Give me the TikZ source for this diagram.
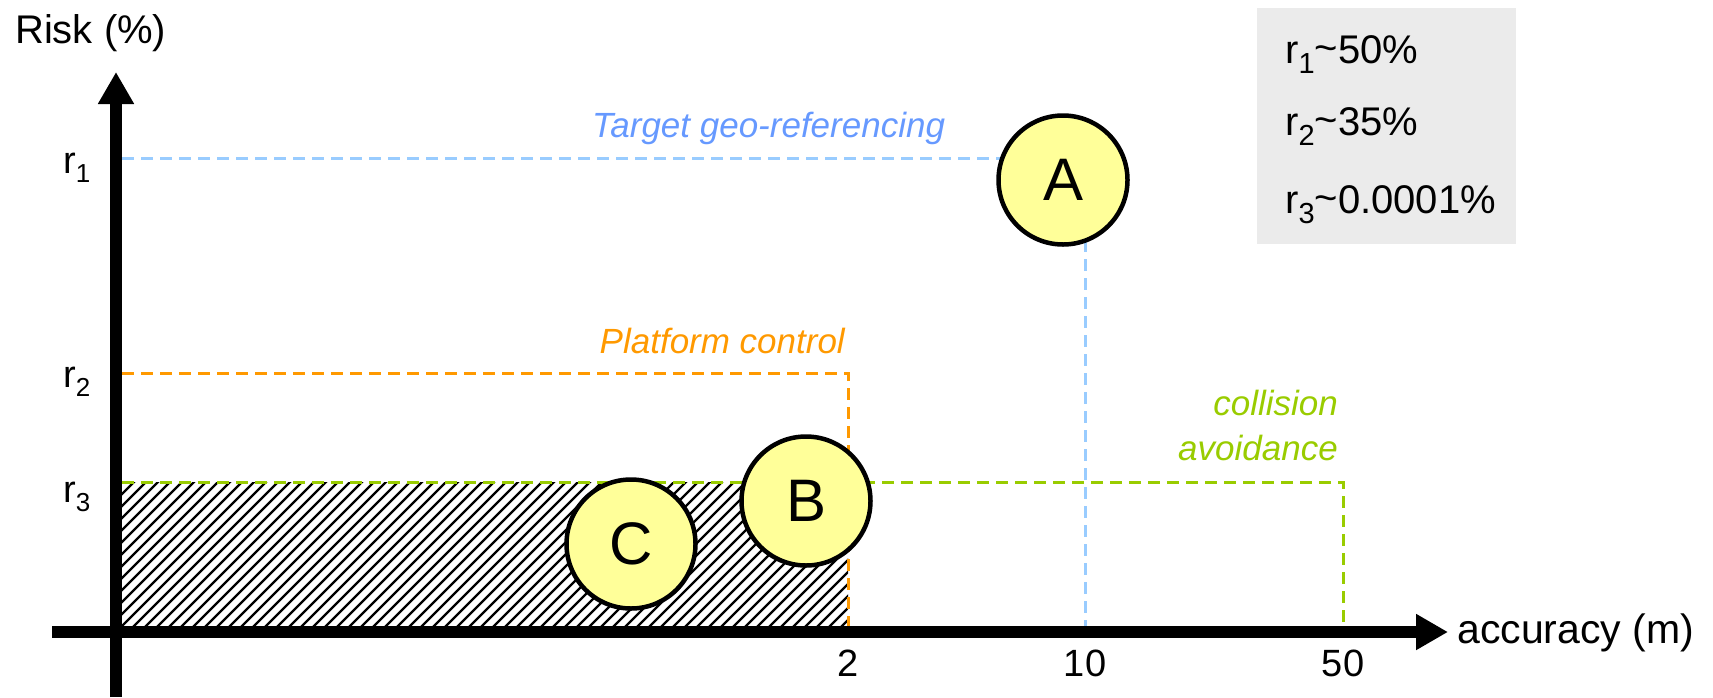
\documentclass[tikz,border=0pt]{standalone}
\usepackage{fontspec}
\setmainfont{Liberation Sans}
\usetikzlibrary{arrows.meta}
\definecolor{cblue}{HTML}{99CCFF}
\definecolor{cbluetext}{HTML}{6699FF}
\definecolor{corange}{HTML}{FF9900}
\definecolor{cgreen}{HTML}{99CC00}
\definecolor{cyel}{HTML}{FFFF99}
\definecolor{cgray}{HTML}{EBEBEB}
\newcommand{\myfs}[1]{\fontsize{#1}{#1}\selectfont}
\newcommand{\rlab}[1]{r\raisebox{-9pt}{\myfs{26}#1}}
\newcommand{\rleg}[1]{r\raisebox{-10pt}{\myfs{29}#1}}
\begin{document}
\begin{tikzpicture}[x=1pt,y=-1pt,
  bubble/.style={circle,draw=black,line width=4.5pt,fill=cyel,minimum size=129pt,inner sep=0pt,font=\myfs{60}},
  axisline/.style={line width=12pt,-{Triangle[length=32pt,width=34pt]}},
  guide/.style={line width=3pt,dash pattern=on 12pt off 7pt},
  hatchline/.style={line width=2.2pt},
  lbl/.style={font=\myfs{35}\itshape},
  ticklbl/.style={font=\myfs{38},anchor=base},
  rl/.style={font=\myfs{38},anchor=base west},
  legtxt/.style={font=\myfs{40},anchor=base west,inner sep=0pt}]
\useasboundingbox (0,0) rectangle (1713,697);
% coordinates
\coordinate (ybot) at (116,697);
\coordinate (ytop) at (116,72);
\coordinate (xl) at (52,632);
\coordinate (xr) at (1448,632);
\coordinate (r1) at (122,158);
\coordinate (r2) at (122,373);
\coordinate (r3) at (122,482);
\coordinate (t2) at (848,632);
\coordinate (t10) at (1085,632);
\coordinate (t50) at (1343,632);
% hatched region
\begin{scope}
  \clip (122,482) rectangle (848,626);
  \foreach \i in {-60,-48,...,860} {
    \draw[hatchline] (\i,640) -- ++(170,-170);
  }
\end{scope}
% guide lines
\draw[guide,cblue] (r1) -| (t10);
\draw[guide,corange] (r2) -| (t2);
\draw[guide,cgreen] (r3) -| (t50);
% axes
\draw[axisline] (ybot) -- (ytop);
\draw[axisline] (xl) -- (xr);
% legend
\node[fill=cgray,minimum width=259pt,minimum height=236pt,anchor=north west,inner sep=0pt] (legend) at (1257,8) {};
\node[legtxt] (l1) at (1285,63) {\rleg{1}\raisebox{2pt}{\char`\~}50\%};
\node[legtxt] (l2) at (1285,135) {\rleg{2}\raisebox{2pt}{\char`\~}35\%};
\node[legtxt] (l3) at (1285,213) {\rleg{3}\raisebox{2pt}{\char`\~}0.0001\%};
% circles
\node[bubble] (A) at (1063,180) {A};
\node[bubble] (B) at (806,501) {B};
\node[bubble] (C) at (631,544) {C};
% axis labels
\node[font=\myfs{40},anchor=base west,inner sep=0pt] (ylab) at (15,43) {Risk (\%)};
\node[font=\myfs{41},anchor=base west,inner sep=0pt] (xlab) at (1457,643) {accuracy (m)};
\node[rl,inner sep=0pt] (lr1) at (63,173) {\rlab{1}};
\node[rl,inner sep=0pt] (lr2) at (63,387) {\rlab{2}};
\node[rl,inner sep=0pt] (lr3) at (63,502) {\rlab{3}};
\node[ticklbl,inner sep=0pt] (lt2) at (848,676) {2};
\node[ticklbl,inner sep=0pt] (lt10) at (1085,676) {10};
\node[ticklbl,inner sep=0pt] (lt50) at (1343,676) {50};
% curve labels
\node[lbl,text=cbluetext,anchor=base west,inner sep=0pt] (ltgt) at (592,137) {Target geo-referencing};
\node[lbl,text=corange,anchor=base east,inner sep=0pt] (lplat) at (845,353) {Platform control};
\node[lbl,text=cgreen,anchor=base east,inner sep=0pt] (lcol1) at (1338,415) {collision};
\node[lbl,text=cgreen,anchor=base east,inner sep=0pt] (lcol2) at (1338,460) {avoidance};
\end{tikzpicture}
\end{document}
